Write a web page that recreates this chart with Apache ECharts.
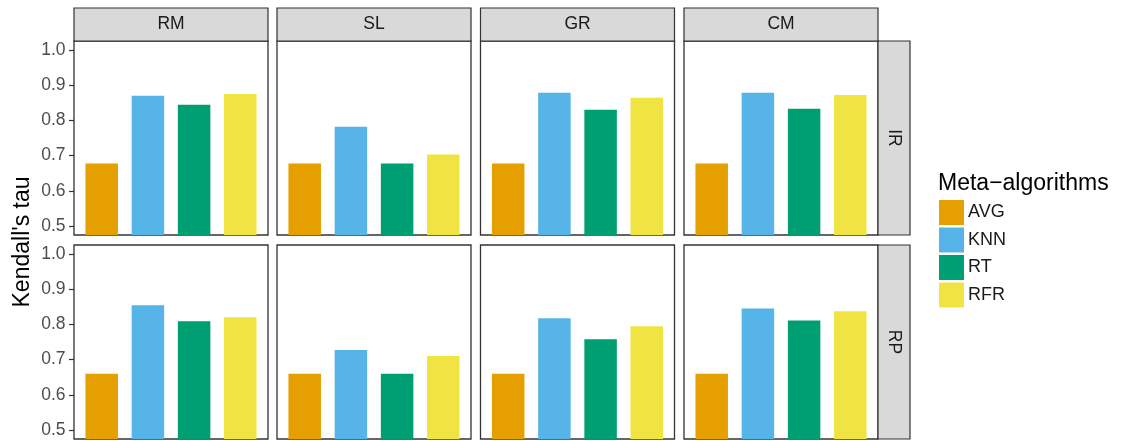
<!DOCTYPE html>
<html>
<head>
<meta charset="utf-8">
<script src="https://cdn.jsdelivr.net/npm/echarts@6/dist/echarts.min.js"></script>
<style>
  html, body { margin: 0; padding: 0; background: #fff; }
  #chart { width: 1128px; height: 441px; }
</style>
</head>
<body>
<div id="chart"></div>
<script>
// Facet labels
const columnLabels = ['RM', 'SL', 'GR', 'CM'];
const rowLabels = ['IR', 'RP'];
const algorithms = ['AVG', 'KNN', 'RT', 'RFR'];
const yTicks = [0.5, 0.6, 0.7, 0.8, 0.9, 1.0];

// Kendall's tau per column (RM, SL, GR, CM), row IR
const avgIR = [0.678, 0.678, 0.678, 0.678];
const knnIR = [0.870, 0.782, 0.878, 0.878];
const rtIR  = [0.844, 0.678, 0.830, 0.833];
const rfrIR = [0.875, 0.703, 0.864, 0.872];

// Kendall's tau per column (RM, SL, GR, CM), row RP
const avgRP = [0.660, 0.660, 0.660, 0.660];
const knnRP = [0.854, 0.727, 0.817, 0.845];
const rtRP  = [0.809, 0.660, 0.758, 0.811];
const rfrRP = [0.820, 0.710, 0.795, 0.837];

const rowData = [
  [avgIR, knnIR, rtIR, rfrIR],
  [avgRP, knnRP, rtRP, rfrRP]
];

const colors = ['#E69F00', '#56B4E9', '#009E73', '#F0E442'];
const FONT = '"Liberation Sans", Arial, Helvetica, sans-serif';

// panel layout
const colLeft = [74, 277, 480.5, 684];
const panelW = 194;
const rowTop = [41, 245];
const panelH = 194;
const stripTop = 8;
const stripH = 33;
const sideStripW = 32;

const grids = [], xAxes = [], yAxes = [], series = [], graphics = [];

rowLabels.forEach((rl, r) => {
  columnLabels.forEach((cl, c) => {
    const gi = r * columnLabels.length + c;
    grids.push({
      left: colLeft[c], top: rowTop[r], width: panelW, height: panelH,
      show: true, borderColor: '#333333', borderWidth: 1.3, backgroundColor: '#ffffff'
    });
    xAxes.push({
      type: 'value', gridIndex: gi, min: 0.4, max: 4.6,
      show: false, splitLine: { show: false }
    });
    const first = c === 0;
    yAxes.push({
      type: 'value', gridIndex: gi, min: 0.475, max: 1.025,
      splitLine: { show: false },
      axisLine: { show: false },
      axisTick: {
        show: first, length: 5, customValues: yTicks,
        lineStyle: { color: '#333333', width: 1.2 }
      },
      axisLabel: {
        show: first, customValues: yTicks, margin: 8.5,
        color: '#4d4d4d', fontSize: 17.5, fontFamily: FONT,
        formatter: v => v.toFixed(1)
      }
    });
    algorithms.forEach((alg, a) => {
      series.push({
        type: 'bar', name: alg,
        xAxisIndex: gi, yAxisIndex: gi,
        barWidth: 32.5, barGap: '-100%',
        itemStyle: { color: colors[a] },
        data: [[a + 1, rowData[r][a][c]]],
        clip: true,
        silent: true
      });
    });
  });
});

// column strips
columnLabels.forEach((cl, c) => {
  graphics.push({
    type: 'rect',
    shape: { x: colLeft[c], y: stripTop, width: panelW, height: stripH },
    style: { fill: '#d9d9d9', stroke: '#333333', lineWidth: 1.2 }
  });
  graphics.push({
    type: 'text',
    x: colLeft[c] + panelW / 2, y: stripTop + stripH / 2,
    style: {
      text: cl, fill: '#1a1a1a', font: '17.5px ' + FONT,
      textAlign: 'center', textVerticalAlign: 'middle'
    }
  });
});

// row strips
const sideX = colLeft[3] + panelW;
rowLabels.forEach((rl, r) => {
  graphics.push({
    type: 'rect',
    shape: { x: sideX, y: rowTop[r], width: sideStripW, height: panelH },
    style: { fill: '#d9d9d9', stroke: '#333333', lineWidth: 1.2 }
  });
  graphics.push({
    type: 'text',
    x: sideX + sideStripW / 2, y: rowTop[r] + panelH / 2,
    rotation: -Math.PI / 2,
    style: {
      text: rl, fill: '#1a1a1a', font: '17.5px ' + FONT,
      textAlign: 'center', textVerticalAlign: 'middle'
    }
  });
});

// y axis title
graphics.push({
  type: 'text', x: 22.5, y: 242, rotation: Math.PI / 2,
  style: {
    text: "Kendall's tau", fill: '#000000', font: '23px ' + FONT,
    textAlign: 'center', textVerticalAlign: 'middle'
  }
});

// legend title
graphics.push({
  type: 'text', x: 938, y: 184,
  style: {
    text: 'Meta\u2212algorithms', fill: '#000000', font: '23px ' + FONT,
    textAlign: 'left', textVerticalAlign: 'middle'
  }
});

const chart = echarts.init(document.getElementById('chart'), null, { renderer: 'canvas' });
chart.setOption({
  animation: false,
  backgroundColor: '#ffffff',
  grid: grids,
  xAxis: xAxes,
  yAxis: yAxes,
  series: series,
  legend: {
    data: algorithms,
    orient: 'vertical',
    left: 939, top: 200,
    padding: 0,
    itemWidth: 25, itemHeight: 25, itemGap: 2.5,
    icon: 'rect',
    selectedMode: false,
    textStyle: { color: '#1a1a1a', fontSize: 18, fontFamily: FONT, padding: [0, 0, 0, -1] }
  },
  graphic: graphics
});
</script>
</body>
</html>
